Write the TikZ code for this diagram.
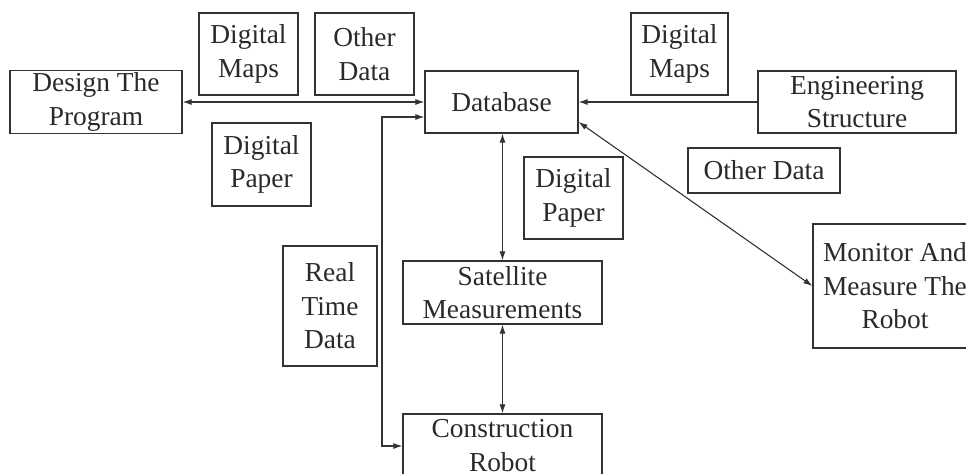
\documentclass[tikz,border=0pt]{standalone}
\usepackage{fontspec}
\setmainfont{Liberation Serif}
\usetikzlibrary{arrows.meta,positioning,calc}
\definecolor{dgline}{HTML}{333333}
\definecolor{dgtext}{HTML}{2A2A2A}
\tikzset{
  box/.style={draw=dgline, line width=0.6pt, align=center, text=dgtext,
    font=\fontsize{13.7pt}{16.8pt}\selectfont, inner sep=1pt},
  arr/.style={-{Latex[length=4.5pt,width=3pt]}, line width=0.55pt, dgline},
  dbl/.style={{Latex[length=4.5pt,width=3pt]}-{Latex[length=4.5pt,width=3pt]}, line width=0.55pt, dgline},
}
\begin{document}
\begin{tikzpicture}[x=0.5pt, y=-0.5pt]
        \useasboundingbox (0,0) rectangle (966,474);
        \clip (0,0) rectangle (966,474);
        % main row
        \node[box, minimum width=86pt, minimum height=31pt] (prog) at (96,102) {Design The\\Program};
        \node[box, minimum width=76.5pt, minimum height=31pt] (db) at (501.5,102) {Database};
        \node[box, minimum width=99pt, minimum height=31pt] (eng) at (857,102) {Engineering\\Structure};
        % data labels
        \node[box, minimum width=49.5pt, minimum height=41pt] (mapsL) at (248.5,54) {Digital\\Maps};
        \node[box, minimum width=49.5pt, minimum height=41pt] (otherL) at (364.5,54) {Other\\Data};
        \node[box, minimum width=49.5pt, minimum height=41.5pt] (paperL) at (261.5,164.5) {Digital\\Paper};
        \node[box, minimum width=48.5pt, minimum height=41pt] (mapsR) at (679.5,54) {Digital\\Maps};
        \node[box, minimum width=76pt, minimum height=22.5pt] (otherR) at (764,170.5) {Other Data};
        \node[box, minimum width=49.5pt, minimum height=41pt] (paperR) at (573.5,198) {Digital\\Paper};
        \node[box, minimum width=47pt, minimum height=60pt] (realtime) at (330,306) {Real\\Time\\Data};
        % lower column
        \node[box, minimum width=99.5pt, minimum height=31.5pt] (sat) at (502.5,292.5) {Satellite\\Measurements};
        \node[box, minimum width=99.5pt, minimum height=31.5pt] (robot) at (502.5,445.5) {Construction\\Robot};
        \node[box, minimum width=82pt, minimum height=62pt] (monitor) at (895,286) {Monitor And\\Measure The\\Robot};
        % connectors
        \coordinate (rtTop) at (382,117);
        \coordinate (rtBot) at (382,446);
        \draw[dbl] (prog.east) -- (db.west);
        \draw[arr] (eng.west) -- (eng.west -| db.east);
        \draw[dbl] (db.west |- rtTop) -- (rtTop) -- (rtBot) -- (robot.west |- rtBot);
        \draw[dbl] (db.south -| sat.north) -- (sat.north);
        \draw[dbl] (sat.south) -- (robot.north);
        \draw[dbl] ($(db.east)+(0,20)$) -- (monitor.west);
      \end{tikzpicture}
\end{document}
